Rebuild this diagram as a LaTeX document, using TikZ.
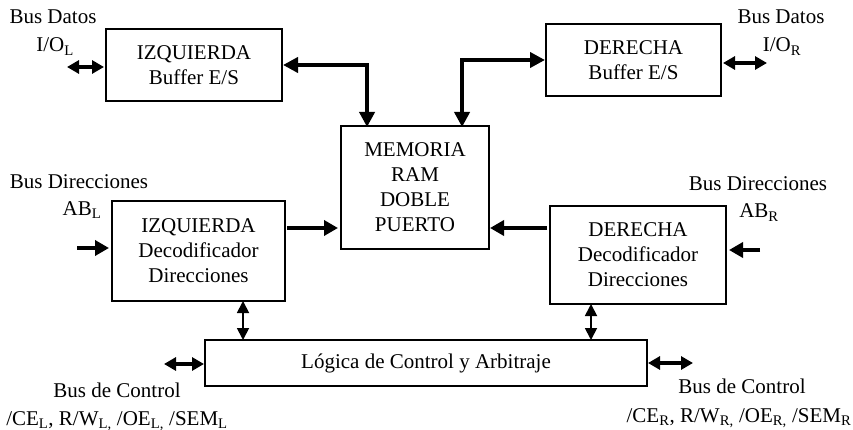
\documentclass[tikz,border=0pt]{standalone}
\usepackage{fontspec}
\setmainfont{Liberation Serif}
\usetikzlibrary{arrows.meta,calc}
\begin{document}
\begin{tikzpicture}[x=1pt,y=-1pt,
  every node/.style={font=\fontsize{21}{25}\selectfont, inner sep=0pt, outer sep=0pt},
  blk/.style={draw, line width=1.5pt, align=center},
  lbl/.style={anchor=base},
  bigarrow/.style={line width=4.5pt, {Triangle[length=15pt,width=15pt]}-{Triangle[length=15pt,width=15pt]}},
  onearrow/.style={line width=4.5pt, -{Triangle[length=14pt,width=15pt]}},
  midarrow/.style={line width=3.5pt, {Triangle[length=12pt,width=13pt]}-{Triangle[length=12pt,width=13pt]}},
  thinarrow/.style={line width=1.8pt, {Triangle[length=12pt,width=12pt]}-{Triangle[length=12pt,width=12pt]}}
]
\useasboundingbox (0,0) rectangle (853,430);

% boxes
\node[blk, minimum width=176pt, minimum height=72pt] (bufL) at (194,65) {IZQUIERDA\\Buffer E/S};
\node[blk, minimum width=175pt, minimum height=72pt] (bufR) at (633.5,60) {DERECHA\\Buffer E/S};
\node[blk, minimum width=148pt, minimum height=123pt] (mem) at (415,187.5) {MEMORIA\\RAM\\DOBLE\\PUERTO};
\node[blk, minimum width=173pt, minimum height=100pt] (decL) at (198.5,251) {IZQUIERDA\\Decodificador\\Direcciones};
\node[blk, minimum width=176pt, minimum height=98pt] (decR) at (638,255) {DERECHA\\Decodificador\\Direcciones};
\node[blk, minimum width=442pt, minimum height=46pt] (ctrl) at (426,363) {L\'ogica de Control y Arbitraje};

% labels
\node[lbl] (bdL) at (53,24) {Bus Datos};
\node[lbl] (ioLt) at (55,52) {I/O\textsubscript{L}};
\node[lbl] (bdR) at (781,24) {Bus Datos};
\node[lbl] (ioRt) at (782,52) {I/O\textsubscript{R}};
\node[lbl] (bdirL) at (79,189) {Bus Direcciones};
\node[lbl] (abL) at (82,215) {AB\textsubscript{L}};
\node[lbl] (bdirR) at (758,191) {Bus Direcciones};
\node[lbl] (abR) at (759,218) {AB\textsubscript{R}};
\node[lbl] (bcL) at (117,397) {Bus de Control};
\node[lbl] (sigL) at (117,425) {/CE\textsubscript{L}, R/W\textsubscript{L,} /OE\textsubscript{L,} /SEM\textsubscript{L}};
\node[lbl] (bcR) at (742,393) {Bus de Control};
\node[lbl] (sigR) at (739,422) {/CE\textsubscript{R}, R/W\textsubscript{R,} /OE\textsubscript{R,} /SEM\textsubscript{R}};

% helper coordinates
\coordinate (mTL) at ($(mem.north west)!0.176!(mem.north east)$);
\coordinate (mTR) at ($(mem.north west)!0.818!(mem.north east)$);
\coordinate (ioL) at (67,67);
\coordinate (ioR) at (767,63);
\coordinate (inL) at (77,248);
\coordinate (inR) at (760,250);
\coordinate (cL) at (164,364);
\coordinate (cR) at (693,363);
\coordinate (vL) at (243,0);
\coordinate (vR) at (591,0);
\coordinate (hm) at (0,228);

% data buses
\draw[bigarrow] ([xshift=1pt]bufL.east) -| ([yshift=-1pt]mTL);
\draw[bigarrow] ([xshift=-1pt]bufR.west) -| ([yshift=-1pt]mTR);
\draw[midarrow] (ioL) -- ([xshift=-2pt]ioL -| bufL.west);
\draw[midarrow] ([xshift=2pt]ioR -| bufR.east) -- (ioR);

% address
\draw[onearrow] ([xshift=2pt]hm -| decL.east) -- ([xshift=-3pt]hm -| mem.west);
\draw[onearrow] ([xshift=-3pt]hm -| decR.west) -- ([xshift=1pt]hm -| mem.east);
\draw[onearrow] (inL) -- ([xshift=-3pt]inL -| decL.west);
\draw[onearrow] (inR) -- ([xshift=3pt]inR -| decR.east);

% control
\draw[thinarrow] (vL |- decL.south) -- (vL |- ctrl.north);
\draw[thinarrow] (vR |- decR.south) -- (vR |- ctrl.north);
\draw[midarrow] (cL) -- ([xshift=-1pt]cL -| ctrl.west);
\draw[midarrow] ([xshift=1pt]cR -| ctrl.east) -- (cR);
\end{tikzpicture}
\end{document}
